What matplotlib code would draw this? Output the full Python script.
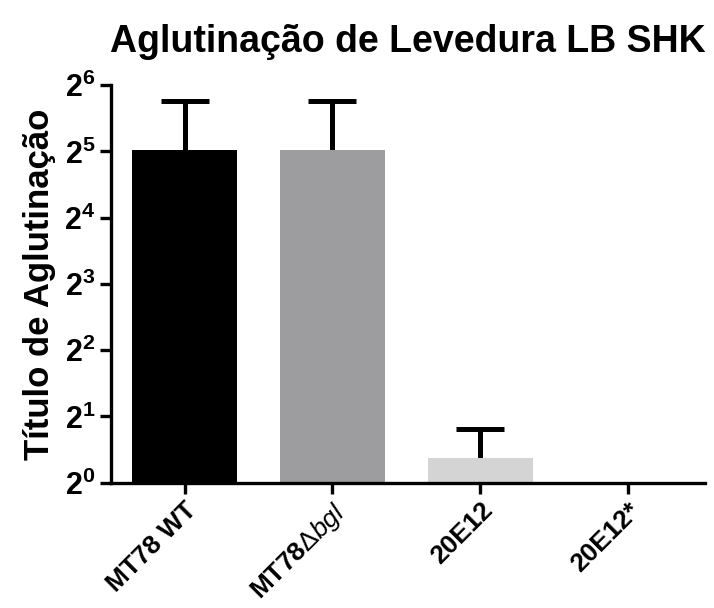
import matplotlib.pyplot as plt

plt.rcParams['font.family'] = ['Liberation Sans', 'DejaVu Sans']
plt.rcParams['mathtext.fontset'] = 'custom'
plt.rcParams['mathtext.rm'] = 'Liberation Sans'
plt.rcParams['mathtext.bf'] = 'Liberation Sans:bold'
plt.rcParams['mathtext.it'] = 'Liberation Sans:italic'

# dados
grupos = ['MT78 WT', r'$\mathbf{MT78}\mathrm{\Delta}\mathit{bgl}$', '20E12', '20E12*']
titulo = [32.5, 32.5, 1.30, 1.0]
erro = [21.5, 21.5, 0.46, 0.0]
cores = ['#000000', '#9d9d9f', '#d4d4d4', '#ffffff']
y_ticks = [1, 2, 4, 8, 16, 32, 64]
y_labels = [r'$\mathbf{2^{%d}}$' % i for i in range(7)]

fig = plt.figure(figsize=(7.14, 6.08), dpi=100)
ax = fig.add_axes([0.155, 0.206, 0.832, 0.654])
ax.set_yscale('log', base=2)
x = range(len(grupos))
ax.bar(x, titulo, width=0.71, color=cores, zorder=2)
# barras de erro so para cima
for i in x:
    if erro[i] > 0:
        eb = ax.errorbar(i, titulo[i], yerr=[[0], [erro[i]]], fmt='none',
                         ecolor='black', elinewidth=3.6, capsize=17, capthick=3.6, zorder=1)
        eb[1][0].set_visible(False)  # sem cap de baixo

ax.set_ylim(1, 64)
ax.set_xlim(-0.5, 3.52)
ax.set_yticks(y_ticks)
ax.set_yticklabels(y_labels, fontsize=22)
ax.minorticks_off()
ax.set_xticks(list(x))
ax.set_xticklabels(grupos, rotation=45, ha='right', rotation_mode='anchor',
                   fontsize=19, fontweight='bold')
ax.set_ylabel('Título de Aglutinação', fontsize=25, fontweight='bold', labelpad=6)
ax.set_title('Aglutinação de Levedura LB SHK', fontsize=27, fontweight='bold', pad=24)

for s in ['top', 'right']:
    ax.spines[s].set_visible(False)
for s in ['left', 'bottom']:
    ax.spines[s].set_linewidth(2.4)
ax.tick_params(width=2.4, length=8, pad=3)

plt.savefig('out.png', dpi=100)
